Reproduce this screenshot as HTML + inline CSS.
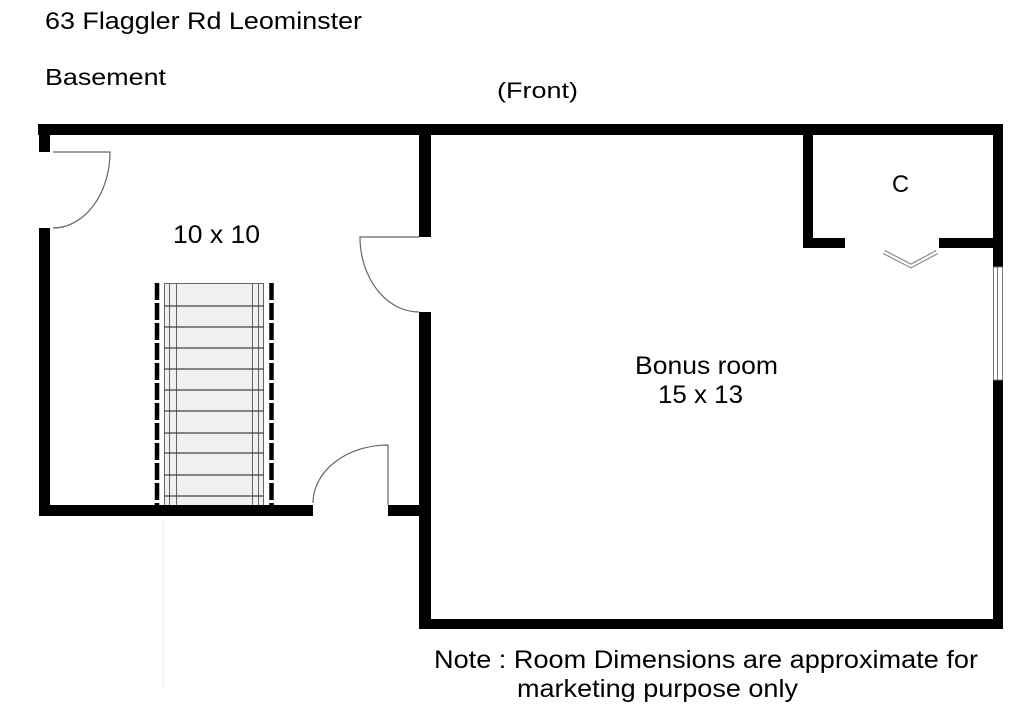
<!DOCTYPE html>
<html>
<head>
<meta charset="utf-8">
<style>
  html, body { margin: 0; padding: 0; background: #fff; }
  svg { display: block; }
  text { font-family: "Liberation Sans", Arial, sans-serif; fill: #000; }
</style>
</head>
<body>
<svg width="1024" height="709" viewBox="0 0 1024 709" xmlns="http://www.w3.org/2000/svg">
  <rect x="0" y="0" width="1024" height="709" fill="#fff"/>

  <!-- Header text -->
  <text x="45" y="29" font-size="24" textLength="317" lengthAdjust="spacingAndGlyphs">63 Flaggler Rd Leominster</text>
  <text x="45" y="85" font-size="23" textLength="121" lengthAdjust="spacingAndGlyphs">Basement</text>
  <text x="497" y="98" font-size="22" textLength="81" lengthAdjust="spacingAndGlyphs">(Front)</text>

  <!-- Stairs -->
  <rect x="164" y="283" width="100" height="222" fill="#f0f0f0"/>
  <g stroke="#666" stroke-width="1" fill="none">
    <line x1="164.5" y1="283" x2="164.5" y2="505"/>
    <line x1="169.5" y1="283" x2="169.5" y2="505"/>
    <line x1="176.5" y1="283" x2="176.5" y2="505"/>
    <line x1="252.5" y1="283" x2="252.5" y2="505"/>
    <line x1="258.5" y1="283" x2="258.5" y2="505"/>
    <line x1="263.5" y1="283" x2="263.5" y2="505"/>
    <line x1="164" y1="283.5" x2="264" y2="283.5"/>
  </g>
  <g stroke="#444" stroke-width="1.2">
    <line x1="164" y1="306" x2="264" y2="306"/>
    <line x1="164" y1="327" x2="264" y2="327"/>
    <line x1="164" y1="348" x2="264" y2="348"/>
    <line x1="164" y1="369" x2="264" y2="369"/>
    <line x1="164" y1="390" x2="264" y2="390"/>
    <line x1="164" y1="411" x2="264" y2="411"/>
    <line x1="164" y1="433" x2="264" y2="433"/>
    <line x1="164" y1="453" x2="264" y2="453"/>
    <line x1="164" y1="475" x2="264" y2="475"/>
    <line x1="164" y1="496" x2="264" y2="496"/>
  </g>
  <g stroke="#000" stroke-width="4.5" stroke-dasharray="17 3">
    <line x1="157" y1="283" x2="157" y2="505"/>
    <line x1="271.5" y1="283" x2="271.5" y2="505"/>
  </g>
  <line x1="163.5" y1="520" x2="163.5" y2="687" stroke="#f2f2f2" stroke-width="1.5"/>

  <!-- Walls -->
  <g fill="#000">
    <rect x="38" y="124" width="965" height="11"/>
    <rect x="39" y="124" width="11" height="28"/>
    <rect x="39" y="228" width="11" height="288"/>
    <rect x="39" y="505" width="274" height="11"/>
    <rect x="388" y="505" width="43" height="11"/>
    <rect x="419" y="124" width="12" height="113"/>
    <rect x="419" y="312" width="12" height="317"/>
    <rect x="419" y="619" width="584" height="10"/>
    <rect x="993" y="124" width="10" height="143"/>
    <rect x="993" y="380" width="10" height="249"/>
    <rect x="803" y="124" width="10" height="124"/>
    <rect x="803" y="238" width="42" height="10"/>
    <rect x="939" y="238" width="54" height="10"/>
  </g>

  <!-- Window -->
  <g stroke="#777" stroke-width="1" fill="#fff">
    <rect x="993.5" y="267" width="9" height="113"/>
    <line x1="997.5" y1="267" x2="997.5" y2="380"/>
  </g>

  <!-- Doors -->
  <g stroke="#666" stroke-width="1.2" fill="none">
    <path d="M53 152 L110 152 A57 76 0 0 1 53 228"/>
    <path d="M419 237 L360 237 A59 75 0 0 0 419 312"/>
    <path d="M388 505 L388 445 A75 58 0 0 0 313 503"/>
  </g>

  <!-- Bifold closet door -->
  <g fill="none" stroke-linejoin="miter">
    <polyline points="884,252 911,266 937,252" stroke="#888" stroke-width="4.5"/>
    <polyline points="884,252 911,266 937,252" stroke="#fff" stroke-width="2.2"/>
  </g>

  <!-- Room labels -->
  <text x="173" y="243" font-size="25" textLength="87" lengthAdjust="spacingAndGlyphs">10 x 10</text>
  <text x="892" y="192" font-size="24" textLength="17" lengthAdjust="spacingAndGlyphs">C</text>
  <text x="635" y="374" font-size="25" textLength="143" lengthAdjust="spacingAndGlyphs">Bonus room</text>
  <text x="658" y="403" font-size="25" textLength="85" lengthAdjust="spacingAndGlyphs">15 x 13</text>

  <!-- Note -->
  <text x="434" y="668" font-size="25" textLength="544" lengthAdjust="spacingAndGlyphs">Note : Room Dimensions are approximate for</text>
  <text x="517" y="697" font-size="25" textLength="281" lengthAdjust="spacingAndGlyphs">marketing purpose only</text>
</svg>
</body>
</html>
